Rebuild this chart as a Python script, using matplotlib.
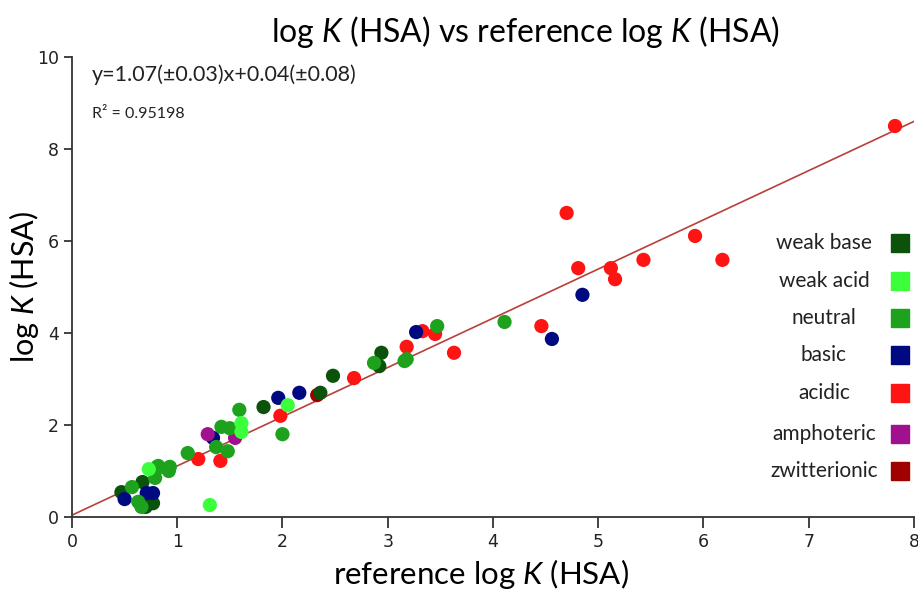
import matplotlib
matplotlib.use('Agg')
import matplotlib.pyplot as plt
import numpy as np

plt.rcParams['font.family'] = ['Lato', 'DejaVu Sans']
plt.rcParams['mathtext.fontset'] = 'custom'
plt.rcParams['mathtext.rm'] = 'Lato'
plt.rcParams['mathtext.it'] = 'Lato:italic'

# data
weak_base_x = [2.48, 2.36, 1.82, 2.94, 2.92, 0.67, 0.47, 0.70, 0.77]
weak_base_y = [3.07, 2.70, 2.39, 3.57, 3.28, 0.76, 0.54, 0.22, 0.30]

weak_acid_x = [2.05, 1.61, 1.61, 0.73, 1.31]
weak_acid_y = [2.43, 2.04, 1.85, 1.04, 0.26]

neutral_x = [2.87, 3.16, 3.18, 3.47, 4.11, 2.00, 1.59, 1.42, 1.50, 1.37,
             1.48, 1.10, 0.82, 0.93, 0.81, 0.92, 0.79, 0.57, 0.63, 0.66]
neutral_y = [3.35, 3.39, 3.43, 4.15, 4.24, 1.80, 2.33, 1.96, 1.93, 1.52,
             1.43, 1.39, 1.11, 1.09, 1.09, 1.00, 0.85, 0.65, 0.33, 0.22]

basic_x = [4.85, 4.56, 3.27, 2.16, 1.96, 1.34, 0.50, 0.71, 0.77]
basic_y = [4.83, 3.87, 4.02, 2.70, 2.59, 1.72, 0.39, 0.52, 0.52]

acidic_x = [7.82, 4.70, 4.81, 5.12, 5.16, 5.43, 5.92, 6.18, 4.46, 3.63,
            3.18, 2.68, 3.33, 3.45, 1.98, 1.20, 1.41]
acidic_y = [8.50, 6.61, 5.41, 5.41, 5.17, 5.59, 6.11, 5.59, 4.15, 3.57,
            3.70, 3.02, 4.04, 3.98, 2.20, 1.26, 1.22]

amphoteric_x = [1.29, 1.55]
amphoteric_y = [1.80, 1.72]

zwitterionic_x = [2.33]
zwitterionic_y = [2.65]

slope = 1.07
intercept = 0.04

groups = [
    ('zwitterionic', zwitterionic_x, zwitterionic_y, '#a00000'),
    ('acidic', acidic_x, acidic_y, '#ff1414'),
    ('weak base', weak_base_x, weak_base_y, '#0b520b'),
    ('basic', basic_x, basic_y, '#000a80'),
    ('amphoteric', amphoteric_x, amphoteric_y, '#a0108f'),
    ('neutral', neutral_x, neutral_y, '#1ea21e'),
    ('weak acid', weak_acid_x, weak_acid_y, '#3cff3c'),
]
legend_order = ['weak base', 'weak acid', 'neutral', 'basic', 'acidic',
                'amphoteric', 'zwitterionic']

fig = plt.figure(figsize=(9.18, 5.92), dpi=100)
ax = fig.add_axes([0.0784, 0.1267, 0.9172, 0.777])

for name, xs, ys, col in groups:
    ax.scatter(xs, ys, s=105, color=col, edgecolors='none', zorder=3)

lx = np.array([0, 8])
ax.plot(lx, slope * lx + intercept, color='#b8403a', lw=1.2, zorder=2)

ax.set_xlim(0, 8)
ax.set_ylim(0, 10)
ax.set_xticks(range(0, 9))
ax.set_yticks(range(0, 11, 2))
for s in ['top', 'right']:
    ax.spines[s].set_visible(False)
for s in ['left', 'bottom']:
    ax.spines[s].set_color('#333333')
    ax.spines[s].set_linewidth(1.3)
ax.tick_params(colors='#222222', labelsize=12.5, length=6, width=1.2)
ax.tick_params(axis='x', length=8)
for lab in ax.get_xticklabels() + ax.get_yticklabels():
    lab.set_family(['Liberation Sans Narrow', 'DejaVu Sans'])

fig.text(481 / 918, 1 - 574 / 592, r'reference log $\it{K}$ (HSA)',
         fontsize=22.5, ha='center', va='center')
fig.text(24 / 918, 1 - 287 / 592, r'log $\it{K}$ (HSA)', fontsize=22,
         ha='center', va='center', rotation=90)
fig.text(525 / 918, 1 - 32 / 592, r'log $\it{K}$ (HSA) vs reference log $\it{K}$ (HSA)',
         fontsize=23, ha='center', va='center')

fig.text(92 / 918, 1 - 75 / 592, 'y=1.07(\u00b10.03)x+0.04(\u00b10.08)',
         fontsize=15.5, ha='left', va='center', color='#222222')
fig.text(92 / 918, 1 - 114 / 592, 'R\u00b2 = 0.95198',
         fontsize=11.5, ha='left', va='center', color='#222222')

# legend drawn by hand on the right side
colors = {g[0]: g[3] for g in groups}
rows_y = [243, 281, 318, 355, 393, 434, 471]
for name, py in zip(legend_order, rows_y):
    fy = 1 - py / 592
    fig.text(824 / 918, fy, name, fontsize=15, ha='center', va='center',
             color='#222222')
    fig.patches.append(plt.Rectangle((891 / 918, fy - 9 / 592), 18 / 918, 18 / 592,
                                     transform=fig.transFigure, color=colors[name]))

fig.savefig('out.png', dpi=100)
